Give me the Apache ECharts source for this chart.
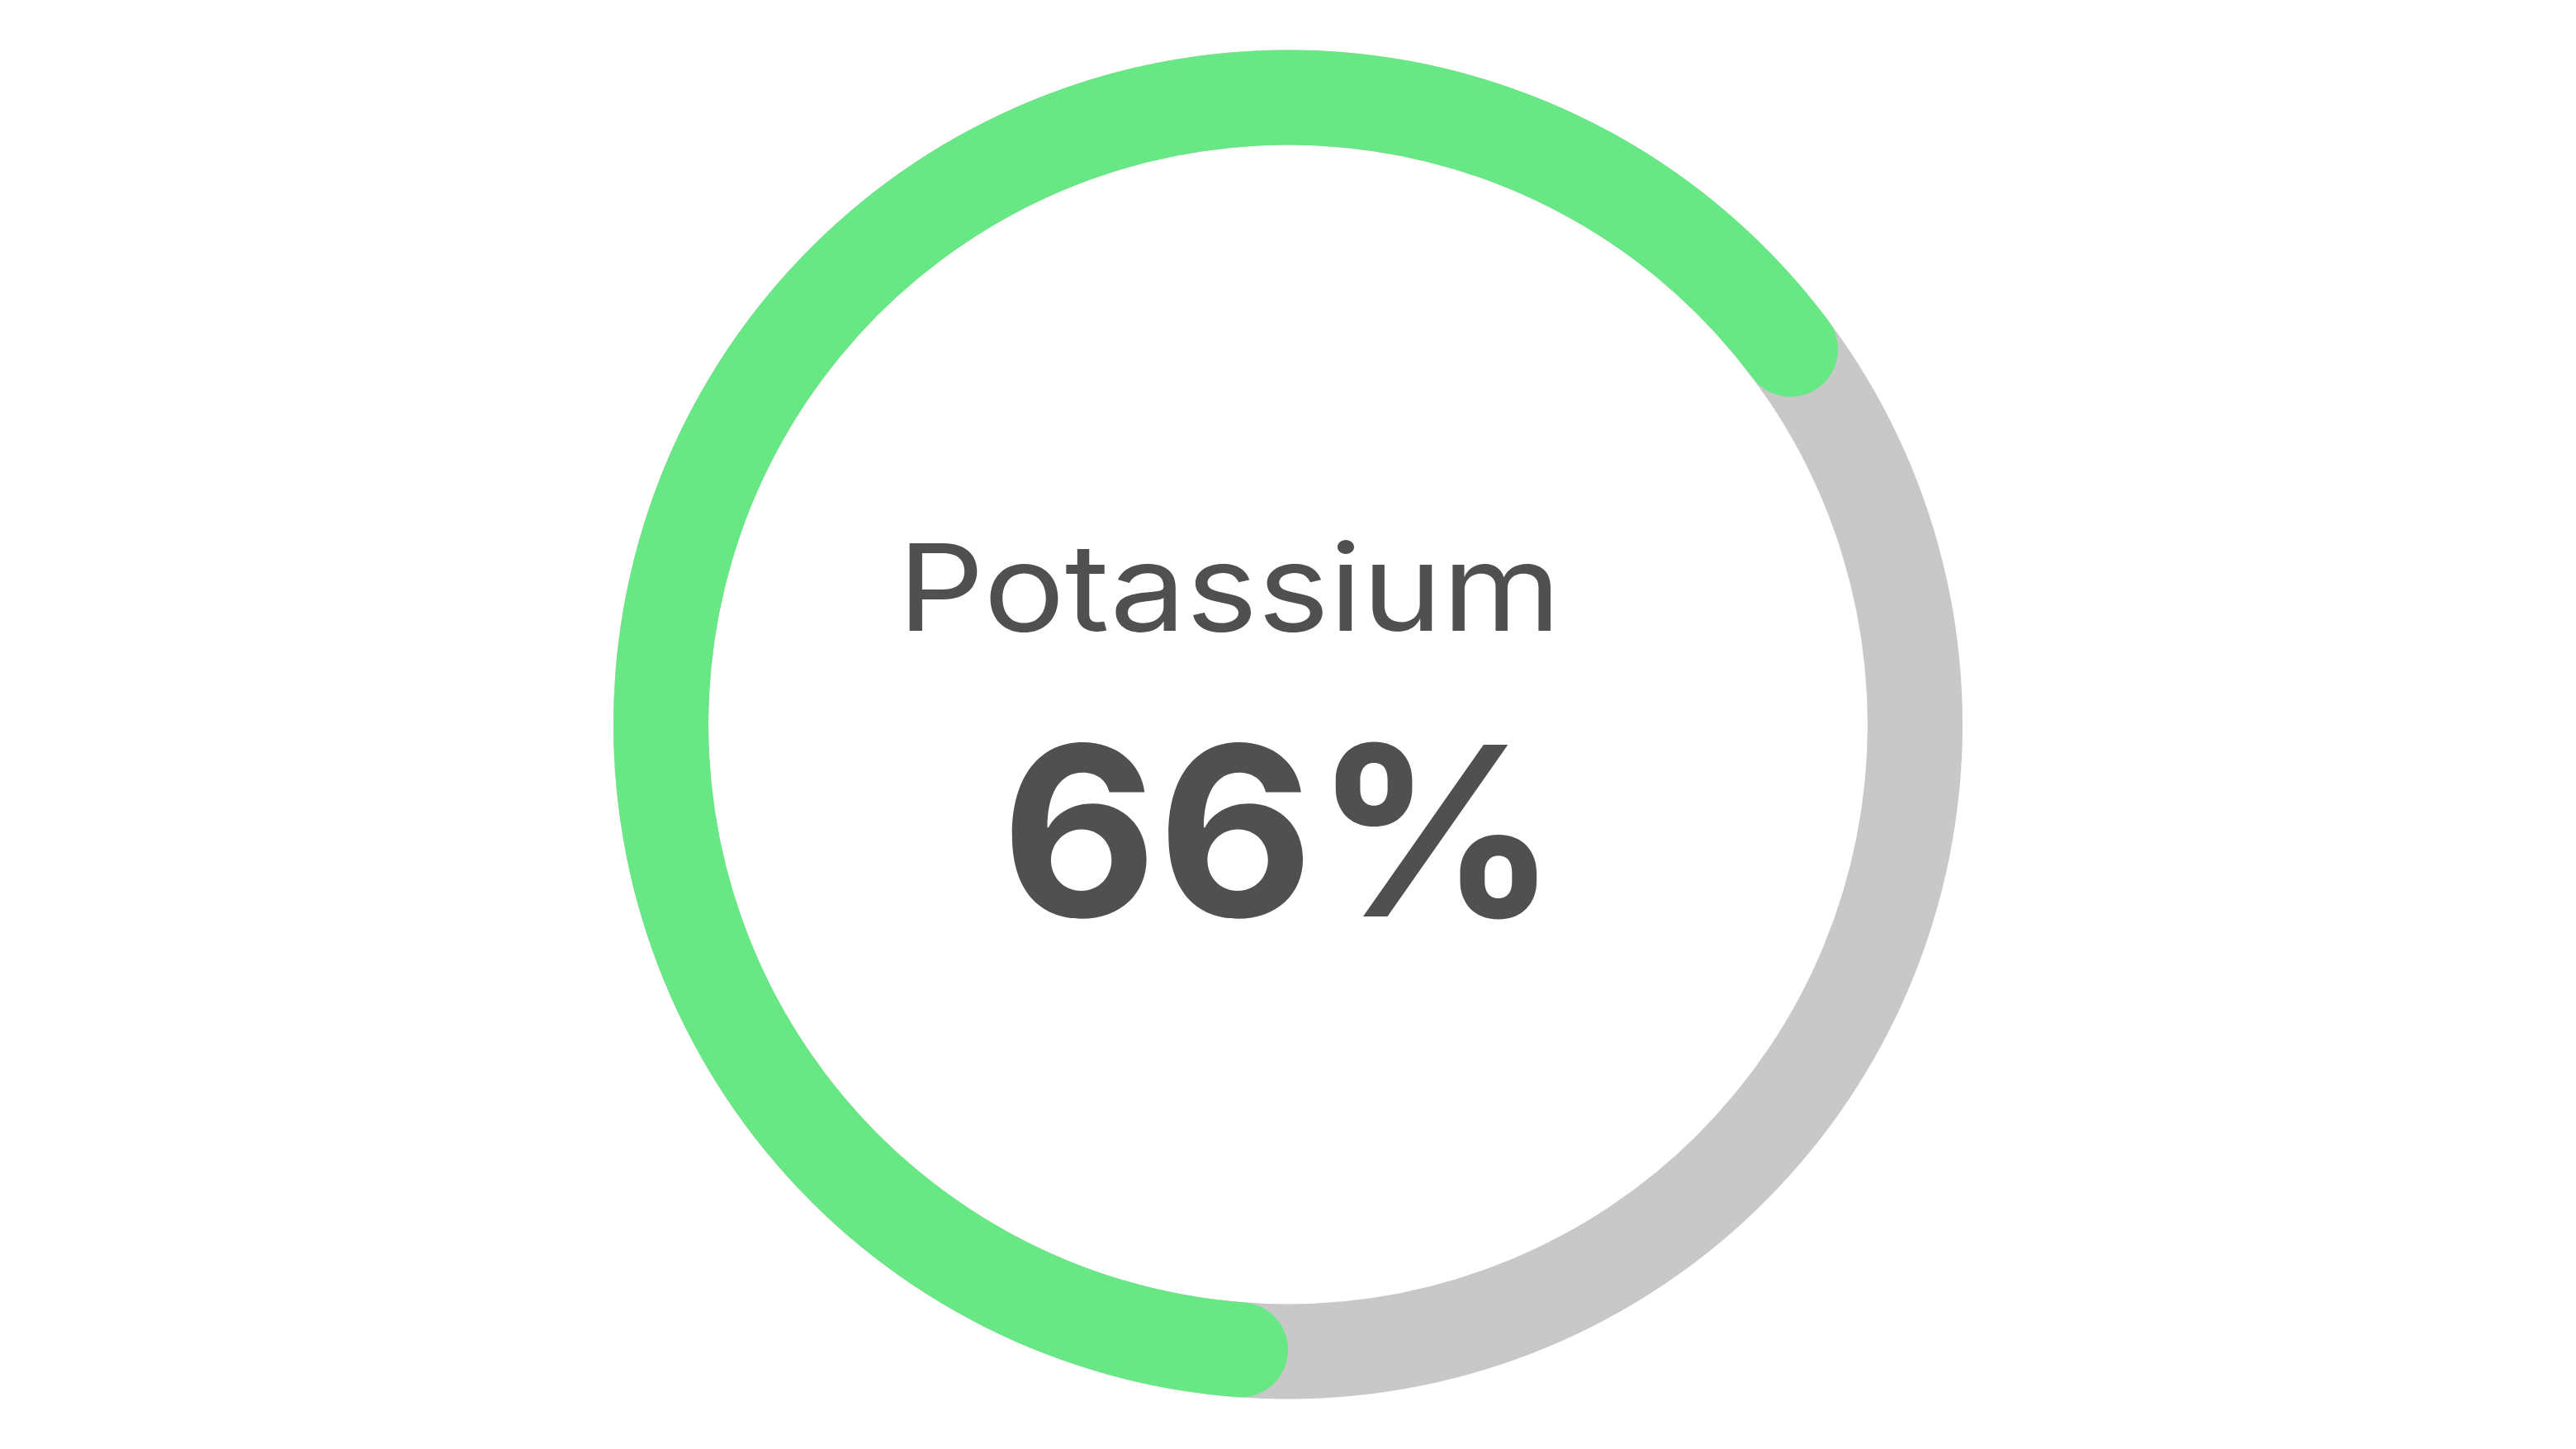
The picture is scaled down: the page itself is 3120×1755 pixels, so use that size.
<!DOCTYPE html>
<html>
<head>
<meta charset="utf-8">
<script src="https://cdn.jsdelivr.net/npm/echarts@6/dist/echarts.min.js"></script>
<style>
  html, body { margin: 0; padding: 0; background: #ffffff; }
  #chart { width: 3120px; height: 1755px; }
</style>
</head>
<body>
<div id="chart"></div>
<script>
// ---- data ----
const nutrientName = 'Potassium';
const categories = ['Potassium', 'Remaining'];
const values = [66, 34];
const trackValue = [100];

// ---- styles ----
const GREEN = '#67e884';
const GRAY = '#c8c8c8';
const TEXT = '#505050';
const RADIUS = [702, 817];
const CAP = (RADIUS[1] - RADIUS[0]) / 2;

const chart = echarts.init(document.getElementById('chart'), null, { renderer: 'canvas' });

chart.setOption({
  animation: false,
  backgroundColor: '#ffffff',
  series: [
    {
      type: 'pie',
      name: 'track',
      silent: true,
      center: ['50%', '50%'],
      radius: RADIUS,
      startAngle: 270,
      label: { show: false },
      labelLine: { show: false },
      emphasis: { disabled: true },
      itemStyle: { color: GRAY, borderWidth: 0 },
      data: trackValue.map(v => ({ value: v, name: 'track' }))
    },
    {
      type: 'pie',
      name: nutrientName,
      silent: true,
      center: ['50%', '50%'],
      radius: RADIUS,
      startAngle: 270,
      clockwise: true,
      label: { show: false },
      labelLine: { show: false },
      emphasis: { disabled: true },
      data: categories.map((c, i) => ({
        name: c,
        value: values[i],
        itemStyle: i === 0
          ? { color: GREEN, borderRadius: CAP, borderWidth: 0 }
          : { color: 'rgba(0,0,0,0)', borderWidth: 0 }
      }))
    }
  ],
  graphic: [
    {
      type: 'text',
      x: 1489,
      y: 720,
      scaleX: 1.125,
      style: {
        text: nutrientName,
        font: '400 146px Inter, "Noto Sans", sans-serif',
        fill: TEXT,
        align: 'center',
        verticalAlign: 'middle'
      }
    },
    {
      type: 'text',
      x: 1550,
      y: 1024,
      scaleX: 1.02,
      style: {
        text: values[0] + '%',
        font: '700 286px Inter, "Noto Sans", sans-serif',
        fill: TEXT,
        align: 'center',
        verticalAlign: 'middle'
      }
    }
  ]
});
</script>
</body>
</html>
